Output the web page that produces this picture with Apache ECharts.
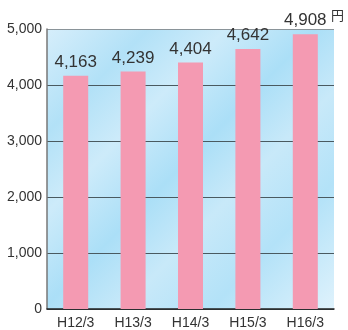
<!DOCTYPE html>
<html><head><meta charset="utf-8">
<script src="https://cdn.jsdelivr.net/npm/echarts@6/dist/echarts.min.js"></script>
<style>html,body{margin:0;padding:0;background:#fff}#c{width:348px;height:330px}</style>
</head><body><div id="c"></div>
<script>
const categories = ['H12/3','H13/3','H14/3','H15/3','H16/3'];
const values = [4163, 4239, 4404, 4642, 4908];
const unitLabel = '円';
const yMin = 0, yMax = 5000, yInterval = 1000;

const chart = echarts.init(document.getElementById('c'));
const font = 'Liberation Sans, Arial, sans-serif';
chart.setOption({
  animation: false,
  grid: {
    left: 47, right: 14, top: 29, bottom: 18, show: true, borderWidth: 0,
    backgroundColor: {
      type: 'linear', x: 0, y: 0, x2: 1, y2: 1,
      colorStops: [
        {offset: 0, color: '#d6eefb'},
        {offset: 0.18, color: '#b2e1f7'},
        {offset: 0.32, color: '#cdebfa'},
        {offset: 0.48, color: '#abdff7'},
        {offset: 0.62, color: '#c8e9f9'},
        {offset: 0.78, color: '#b3e2f8'},
        {offset: 1, color: '#dff2fc'}
      ]
    }
  },
  graphic: [{
    type: 'text', right: 4, top: 9,
    style: {text: unitLabel, font: '13px "Noto Sans CJK JP", sans-serif', fill: '#333'}
  }],
  xAxis: {
    type: 'category', data: categories,
    axisLine: {lineStyle: {color: '#222', width: 1.5}},
    axisTick: {show: false},
    axisLabel: {color: '#333', fontSize: 14, fontFamily: font, margin: 7}
  },
  yAxis: {
    type: 'value', min: yMin, max: yMax, interval: yInterval,
    axisLine: {show: true, lineStyle: {color: '#777', width: 1.5}},
    axisTick: {show: false},
    axisLabel: {color: '#333', fontSize: 14, fontFamily: font, margin: 5,
      formatter: v => v.toLocaleString('en-US')},
    splitLine: {lineStyle: {color: ['#4a5a60','#4a5a60','#4a5a60','#4a5a60','#4a5a60','#8a9499'], width: 1.2}}
  },
  series: [{
    type: 'bar', data: values, barWidth: 25,
    itemStyle: {color: '#f49ab2'},
    label: {show: true, position: 'top', distance: 5, color: '#333',
      fontSize: 17, fontFamily: font,
      formatter: p => p.value.toLocaleString('en-US')}
  }]
});
</script></body></html>
